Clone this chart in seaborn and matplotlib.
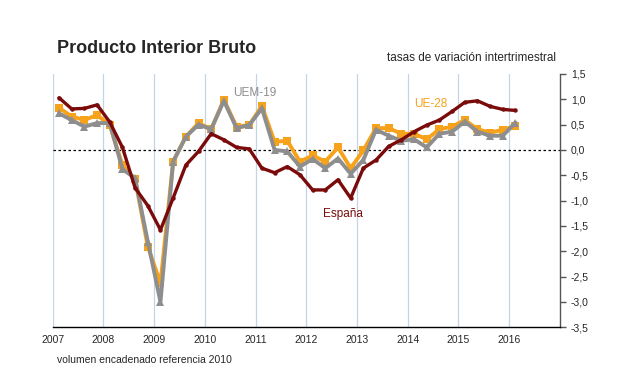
"""
Producto Interior Bruto: quarterly growth, España vs UEM-19 vs UE-28.
"""

import matplotlib.pyplot as plt
import numpy as np
import pandas as pd
import seaborn as sns

# quarters 2007T1 .. 2016T1
years = [2007 + i // 4 for i in range(37)]
quarters = [i % 4 + 1 for i in range(37)]

espana = [1.03, 0.81, 0.82, 0.89, 0.55, 0.05, -0.75, -1.10, -1.58, -0.95,
          -0.30, -0.03, 0.32, 0.20, 0.05, 0.02, -0.36, -0.45, -0.33, -0.49,
          -0.79, -0.79, -0.59, -0.95, -0.36, -0.20, 0.07, 0.20, 0.36, 0.49,
          0.59, 0.76, 0.94, 0.97, 0.86, 0.80, 0.78]
uem19 = [0.72, 0.59, 0.46, 0.53, 0.53, -0.38, -0.56, -1.81, -3.00, -0.23,
         0.26, 0.50, 0.41, 0.97, 0.43, 0.49, 0.82, 0.00, -0.03, -0.33,
         -0.18, -0.36, -0.17, -0.47, -0.20, 0.40, 0.28, 0.18, 0.21, 0.05,
         0.32, 0.36, 0.56, 0.36, 0.28, 0.28, 0.54]
ue28 = [0.83, 0.66, 0.59, 0.69, 0.49, -0.30, -0.58, -1.91, -2.63, -0.23,
        0.26, 0.53, 0.41, 0.99, 0.46, 0.49, 0.87, 0.16, 0.18, -0.23,
        -0.11, -0.23, 0.05, -0.36, -0.01, 0.43, 0.43, 0.32, 0.32, 0.21,
        0.41, 0.46, 0.59, 0.41, 0.34, 0.40, 0.47]

year_ticks = list(range(2007, 2017))
y_ticks = [1.5, 1.0, 0.5, 0.0, -0.5, -1.0, -1.5, -2.0, -2.5, -3.0, -3.5]

RED = "#7b0a0a"
ORANGE = "#f7a21b"
GRAY = "#8e8e8e"

df = pd.DataFrame({
    "t": np.array(years) + (np.array(quarters) - 0.5) / 4,
    "España": espana,
    "UEM-19": uem19,
    "UE-28": ue28,
})

sns.set_style("white")
plt.rcParams["font.family"] = ["Liberation Sans", "DejaVu Sans"]

fig = plt.figure(figsize=(6.2, 3.68), dpi=100)
ax = fig.add_axes([0.085, 0.111, 0.818, 0.688])

for yr in year_ticks:
    ax.axvline(yr, color="#c5d3e6", lw=0.9, zorder=0)
ax.axhline(0, color="black", lw=0.9, ls=(0, (2, 2)), zorder=1)

sns.lineplot(data=df, x="t", y="UE-28", ax=ax, color=ORANGE, lw=2.8,
             marker="s", markersize=5.5, markeredgewidth=0, zorder=3)
sns.lineplot(data=df, x="t", y="UEM-19", ax=ax, color=GRAY, lw=2.8,
             marker="^", markersize=5.5, markeredgewidth=0, zorder=4)
sns.lineplot(data=df, x="t", y="España", ax=ax, color=RED, lw=2.4,
             marker="o", markersize=3.2, markeredgewidth=0, zorder=5)

ax.set_xlim(2007, 2017)
ax.set_ylim(-3.5, 1.5)
ax.set_xlabel("")
ax.set_ylabel("")

ax.set_xticks(year_ticks)
ax.set_xticklabels([str(y) for y in year_ticks], fontsize=7.5)
ax.tick_params(axis="x", direction="inout", length=7, width=1, color="black", pad=2)

ax.yaxis.tick_right()
ax.set_yticks(y_ticks)
ax.set_yticklabels([f"{v:.1f}".replace(".", ",") for v in y_ticks], fontsize=7.5)
ax.tick_params(axis="y", direction="out", length=4, width=1, color="#555555", pad=4)

for side in ["top", "left"]:
    ax.spines[side].set_visible(False)
ax.spines["bottom"].set_color("black")
ax.spines["bottom"].set_linewidth(1.0)
ax.spines["right"].set_color("#555555")
ax.spines["right"].set_linewidth(1.0)

ax.text(2010.98, 1.13, "UEM-19", color=GRAY, fontsize=8.5, ha="center", va="center")
ax.text(2014.45, 0.91, "UE-28", color=ORANGE, fontsize=8.5, ha="center", va="center")
ax.text(2012.72, -1.26, "España", color=RED, fontsize=8.5, ha="center", va="center")

fig.text(0.092, 0.868, "Producto Interior Bruto", fontsize=13, fontweight="bold",
         ha="left", va="center")
fig.text(0.897, 0.843, "tasas de variación intertrimestral", fontsize=8.5,
         ha="right", va="center")
fig.text(0.092, 0.022, "volumen encadenado referencia 2010", fontsize=7.5,
         ha="left", va="center")

fig.savefig("out.png", dpi=100)
plt.close(fig)
